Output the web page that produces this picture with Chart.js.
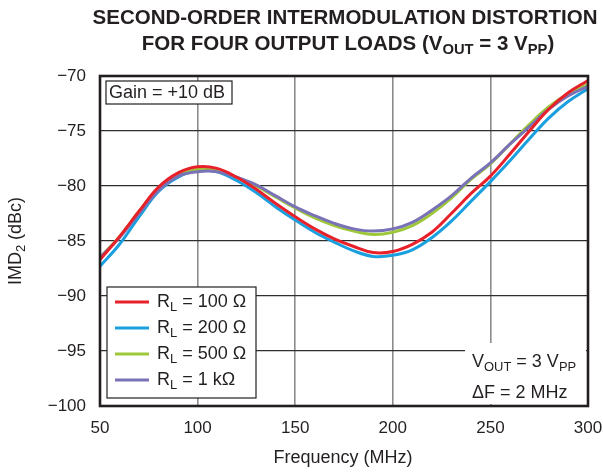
<!DOCTYPE html>
<html>
<head>
<meta charset="utf-8">
<script src="https://cdn.jsdelivr.net/npm/chart.js@4.4.1/dist/chart.umd.min.js"></script>
<style>
  html, body { margin: 0; padding: 0; background: #ffffff; }
  #wrap { width: 603px; height: 472px; position: relative; }
</style>
</head>
<body>
<div id="wrap"><canvas id="c" width="603" height="472"></canvas></div>
<script>
// ---- Data ----
const freqMHz = [50, 60, 70, 80, 90, 100, 110, 120, 130, 140, 150, 160, 170, 180, 190, 200, 210, 220, 230, 240, 250, 260, 270, 280, 290, 300];
const imdRL100 = [-86.7, -84.6, -82.3, -80.1, -78.8, -78.25, -78.4, -79.2, -80.3, -81.6, -82.8, -83.9, -84.8, -85.5, -86.05, -85.95, -85.3, -84.2, -82.5, -80.7, -79.1, -77.1, -75.0, -73.0, -71.5, -70.4];
const imdRL200 = [-87.3, -85.3, -82.8, -80.5, -79.2, -78.6, -78.7, -79.5, -80.6, -81.9, -83.1, -84.2, -85.1, -85.9, -86.4, -86.3, -85.8, -84.7, -83.2, -81.4, -79.6, -77.7, -75.7, -73.8, -72.3, -71.15];
const imdRL500 = [-86.5, -84.6, -82.3, -80.2, -78.95, -78.5, -78.6, -79.2, -80.0, -81.0, -82.0, -82.9, -83.6, -84.1, -84.4, -84.2, -83.6, -82.5, -81.1, -79.4, -78.0, -76.2, -74.4, -72.8, -71.6, -70.75];
const imdRL1k  = [-86.5, -84.7, -82.5, -80.4, -79.1, -78.7, -78.7, -79.2, -79.9, -80.9, -81.9, -82.7, -83.4, -83.9, -84.1, -83.9, -83.3, -82.2, -80.9, -79.3, -77.9, -76.2, -74.6, -73.0, -71.8, -70.95];
const loadLabels = ['100 \u03A9', '200 \u03A9', '500 \u03A9', '1 k\u03A9'];
const seriesColors = ['#e8202a', '#1a9fdf', '#9dc83a', '#7a72b6'];
const xTicks = [50, 100, 150, 200, 250, 300];
const yTicks = [-100, -95, -90, -85, -80, -75, -70];

const FONT = '"Liberation Sans", Arial, Helvetica, sans-serif';
const TXT = '#231f20';

// rich text helper: segments [{t, sub}]
function richWidth(ctx, segs, size, bold) {
  let w = 0;
  segs.forEach(s => {
    const fs = s.sub ? size * 0.72 : size;
    ctx.font = (bold ? 'bold ' : '') + fs + 'px ' + FONT;
    w += ctx.measureText(s.t).width;
  });
  return w;
}
function drawRich(ctx, segs, x, y, size, bold, align) {
  const w = richWidth(ctx, segs, size, bold);
  let cx = align === 'center' ? x - w / 2 : (align === 'right' ? x - w : x);
  ctx.textBaseline = 'middle';
  ctx.textAlign = 'left';
  ctx.fillStyle = TXT;
  segs.forEach(s => {
    const fs = s.sub ? size * 0.72 : size;
    ctx.font = (bold ? 'bold ' : '') + fs + 'px ' + FONT;
    ctx.fillText(s.t, cx, s.sub ? y + size * 0.3 : y);
    cx += ctx.measureText(s.t).width;
  });
}

const decor = {
  id: 'decor',
  beforeDatasetsDraw(chart) {
    const ctx = chart.ctx, a = chart.chartArea;
    ctx.save();
    // Gain box
    ctx.fillStyle = '#fff';
    ctx.fillRect(a.left + 6, a.top + 5, 126, 23);
    ctx.strokeStyle = '#231f20'; ctx.lineWidth = 1.2;
    ctx.strokeRect(a.left + 6, a.top + 5, 126, 23);
    drawRich(ctx, [{t: 'Gain = +10 dB'}], a.left + 9, a.top + 17, 18, false, 'left');
    // Legend box
    const lx = a.left + 7, ly = a.bottom - 119, lw = 149, lh = 111;
    ctx.fillStyle = '#fff';
    ctx.fillRect(lx, ly, lw, lh);
    ctx.strokeStyle = '#231f20'; ctx.lineWidth = 1.2;
    ctx.strokeRect(lx, ly, lw, lh);
    chart.data.datasets.forEach((ds, i) => {
      const yy = ly + 15 + i * 26;
      ctx.strokeStyle = ds.borderColor; ctx.lineWidth = 3;
      ctx.beginPath(); ctx.moveTo(lx + 8, yy); ctx.lineTo(lx + 42, yy); ctx.stroke();
      drawRich(ctx, [{t: 'R'}, {t: 'L', sub: true}, {t: ' = ' + loadLabels[i]}], lx + 50, yy, 18, false, 'left');
    });
    // Vout annotation (white backing)
    ctx.fillStyle = '#fff';
    ctx.fillRect(a.right - 123, a.bottom - 63, 121, 61);
    drawRich(ctx, [{t: 'V'}, {t: 'OUT', sub: true}, {t: ' = 3 V'}, {t: 'PP', sub: true}], a.right - 116, a.bottom - 44, 18, false, 'left');
    drawRich(ctx, [{t: '\u0394F = 2 MHz'}], a.right - 116, a.bottom - 13, 18, false, 'left');
    ctx.restore();
  },
  afterDraw(chart) {
    const ctx = chart.ctx, a = chart.chartArea;
    ctx.save();
    // frame
    ctx.strokeStyle = '#231f20'; ctx.lineWidth = 2.6;
    ctx.strokeRect(a.left, a.top, a.right - a.left, a.bottom - a.top);
    const cx = (a.left + a.right) / 2;
    // title
    drawRich(ctx, [{t: 'SECOND-ORDER INTERMODULATION DISTORTION'}], cx + 1, 18, 20.5, true, 'center');
    drawRich(ctx, [{t: 'FOR FOUR OUTPUT LOADS (V'}, {t: 'OUT', sub: true}, {t: ' = 3 V'}, {t: 'PP', sub: true}, {t: ')'}], cx + 4, 44, 20.5, true, 'center');
    // x title
    drawRich(ctx, [{t: 'Frequency (MHz)'}], cx - 1, 458, 18, false, 'center');
    // y title
    ctx.translate(16, (a.top + a.bottom) / 2);
    ctx.rotate(-Math.PI / 2);
    drawRich(ctx, [{t: 'IMD'}, {t: '2', sub: true}, {t: ' (dBc)'}], 0, 0, 18, false, 'center');
    ctx.restore();
  }
};

const mkDs = (label, data, color, order) => ({
  label, data, borderColor: color, backgroundColor: color,
  borderWidth: 3, pointRadius: 0, fill: false,
  tension: 0.4, order
});

new Chart(document.getElementById('c'), {
  type: 'line',
  data: {
    labels: freqMHz,
    datasets: [
      mkDs('RL = ' + loadLabels[0], imdRL100.map((v, i) => ({x: freqMHz[i], y: v})), seriesColors[0], 0),
      mkDs('RL = ' + loadLabels[1], imdRL200.map((v, i) => ({x: freqMHz[i], y: v})), seriesColors[1], 3),
      mkDs('RL = ' + loadLabels[2], imdRL500.map((v, i) => ({x: freqMHz[i], y: v})), seriesColors[2], 2),
      mkDs('RL = ' + loadLabels[3], imdRL1k.map((v, i) => ({x: freqMHz[i], y: v})), seriesColors[3], 1)
    ]
  },
  options: {
    responsive: false,
    animation: false,
    devicePixelRatio: 1,
    layout: { padding: { left: 0, top: 76, right: 15, bottom: 0 } },
    plugins: { legend: { display: false }, title: { display: false }, tooltip: { enabled: false } },
    scales: {
      x: {
        type: 'linear', min: 50, max: 300,
        afterFit(s) { s.height = 66; s.paddingLeft = 0; s.paddingRight = 0; },
        afterBuildTicks(s) { s.ticks = xTicks.map(v => ({value: v})); },
        ticks: { color: TXT, font: { family: FONT, size: 17 }, padding: 12, maxRotation: 0 },
        grid: { color: '#8c8c8c', lineWidth: 1.6, drawTicks: false },
        border: { display: false }
      },
      y: {
        type: 'linear', min: -100, max: -70,
        afterFit(s) { s.width = 100; s.paddingTop = 0; s.paddingBottom = 0; },
        afterBuildTicks(s) { s.ticks = yTicks.map(v => ({value: v})); },
        ticks: { color: TXT, font: { family: FONT, size: 17 }, padding: 14,
                 callback: v => String(v).replace('-', '\u2212') },
        grid: { color: '#2e2e2e', lineWidth: 1.3, drawTicks: false },
        border: { display: false }
      }
    }
  },
  plugins: [decor]
});
</script>
</body>
</html>
